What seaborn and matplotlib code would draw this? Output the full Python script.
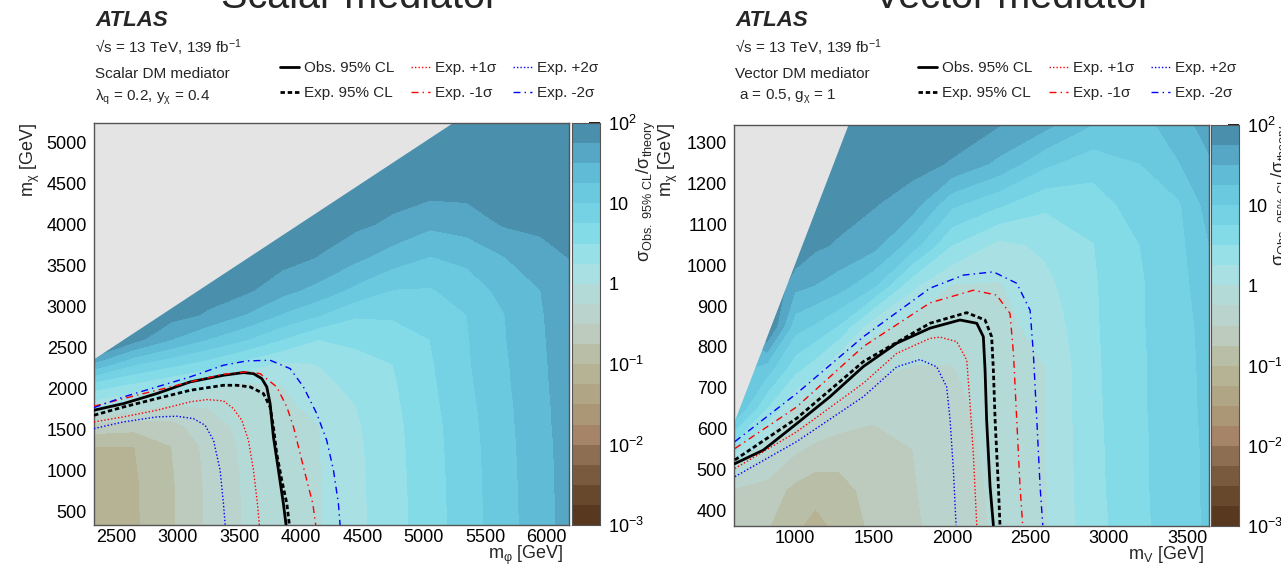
import numpy as np
import seaborn as sns
import matplotlib.pyplot as plt
from matplotlib.colors import ListedColormap, BoundaryNorm
from matplotlib.ticker import MultipleLocator, LogLocator, NullFormatter

W, H = 1281, 566

# z axis: log10(sigma_obs / sigma_theory), colour bands from 10^-3 to 10^2
z_edges = [-3.0, -2.75, -2.5, -2.25, -2.0, -1.75, -1.5, -1.25, -1.0, -0.75, -0.5,
           -0.25, 0.0, 0.25, 0.5, 0.75, 1.0, 1.25, 1.5, 1.75, 2.0]
band_colors = ['#58391f', '#68482c', '#7a5a3e', '#8d6e52', '#a58468', '#ab9676',
               '#b0a584', '#b5b394', '#b9bea6', '#bccbbe', '#bad3cc', '#b4dad8',
               '#a8e0e3', '#98e0e8', '#84dbe8', '#74d2e4', '#6ac9df', '#60bbd6',
               '#55a7c5', '#4a90ad']
cbar_ticks = [1e-3, 1e-2, 1e-1, 1, 10, 100]
cbar_ticklabels = [r'$\mathregular{10^{-3}}$', r'$\mathregular{10^{-2}}$',
                   r'$\mathregular{10^{-1}}$', '1', '10', r'$\mathregular{10^{2}}$']

# ---------------- scalar mediator ----------------
sc_mphi = [2320, 2650, 2950, 3250, 3550, 3850, 4150, 4450, 4750, 5050, 5350, 5650, 5950, 6200]
sc_mchi = [300, 900, 1300, 1550, 1800, 2050, 2300, 2600, 2900, 3200, 3600, 4000, 4400, 4800, 5250]
sc_logr = [
    [-1.15, -1.04, -0.79, -0.46, -0.23, -0.13, -0.02, 0.18, 0.40, 0.63, 0.88, 1.14, 1.40, 1.60],
    [-1.12, -1.03, -0.78, -0.45, -0.22, -0.12, -0.01, 0.19, 0.41, 0.64, 0.89, 1.15, 1.41, 1.61],
    [-1.00, -1.00, -0.75, -0.42, -0.20, -0.10, -0.01, 0.20, 0.42, 0.65, 0.90, 1.16, 1.42, 1.61],
    [-0.59, -0.64, -0.57, -0.36, -0.17, -0.08, 0.00, 0.22, 0.43, 0.66, 0.91, 1.17, 1.43, 1.62],
    [0.13, -0.12, -0.25, -0.23, -0.12, -0.05, 0.07, 0.25, 0.45, 0.68, 0.93, 1.18, 1.44, 1.62],
    [0.65, 0.46, 0.29, 0.07, -0.04, 0.00, 0.17, 0.33, 0.47, 0.70, 0.95, 1.20, 1.45, 1.63],
    [1.45, 1.02, 0.82, 0.64, 0.40, 0.20, 0.26, 0.42, 0.50, 0.72, 0.97, 1.21, 1.46, 1.63],
    [2.40, 1.84, 1.50, 1.24, 1.02, 0.75, 0.50, 0.55, 0.60, 0.75, 0.98, 1.23, 1.47, 1.64],
    [2.40, 2.40, 1.85, 1.72, 1.49, 1.23, 1.02, 0.78, 0.79, 0.88, 1.00, 1.24, 1.48, 1.65],
    [2.40, 2.40, 2.40, 1.85, 1.80, 1.59, 1.41, 1.18, 0.99, 0.98, 1.10, 1.33, 1.50, 1.68],
    [2.40, 2.40, 2.40, 2.40, 2.40, 1.85, 1.74, 1.56, 1.38, 1.24, 1.32, 1.49, 1.68, 1.76],
    [2.40, 2.40, 2.40, 2.40, 2.40, 2.40, 1.85, 1.80, 1.70, 1.55, 1.61, 1.77, 1.79, 1.80],
    [2.40, 2.40, 2.40, 2.40, 2.40, 2.40, 2.40, 1.90, 1.85, 1.82, 1.82, 1.84, 1.84, 1.84],
    [2.40, 2.40, 2.40, 2.40, 2.40, 2.40, 2.40, 2.40, 2.40, 1.90, 1.88, 1.88, 1.88, 1.88],
    [2.40, 2.40, 2.40, 2.40, 2.40, 2.40, 2.40, 2.40, 2.40, 2.40, 1.92, 1.92, 1.92, 1.92],
]
sc_edge_x = [2320, 5229]
sc_edge_y = [2366, 5235]

sc_obs_x = [2320, 2560, 2830, 3101, 3372, 3535, 3616, 3683, 3724, 3751, 3778, 3819, 3859, 3881]
sc_obs_y = [1736, 1817, 1939, 2081, 2162, 2195, 2182, 2122, 2020, 1817, 1411, 1005, 599, 335]
sc_exp_x = [2320, 2560, 2830, 3101, 3372, 3480, 3589, 3697, 3751, 3778, 3805, 3846, 3887, 3908]
sc_exp_y = [1675, 1776, 1878, 1979, 2040, 2040, 2020, 1939, 1776, 1533, 1208, 883, 599, 335]
sc_p1_x = [2320, 2560, 2830, 3101, 3237, 3372, 3453, 3521, 3575, 3616, 3648, 3664]
sc_p1_y = [1594, 1655, 1736, 1838, 1866, 1850, 1756, 1614, 1370, 1005, 599, 335]
sc_m1_x = [2320, 2560, 2830, 3101, 3372, 3562, 3670, 3805, 3887, 3941, 3995, 4049, 4098, 4122]
sc_m1_y = [1785, 1878, 1979, 2081, 2174, 2203, 2182, 2020, 1776, 1533, 1208, 883, 599, 335]
sc_p2_x = [2320, 2560, 2830, 2993, 3128, 3223, 3291, 3345, 3372, 3386]
sc_p2_y = [1513, 1594, 1655, 1663, 1634, 1553, 1370, 1005, 599, 335]
sc_m2_x = [2320, 2560, 2830, 3101, 3372, 3562, 3751, 3914, 4022, 4130, 4211, 4266, 4306, 4320]
sc_m2_y = [1768, 1898, 2020, 2142, 2284, 2337, 2345, 2243, 2020, 1695, 1370, 1005, 599, 335]

# ---------------- vector mediator ----------------
vc_mv = [610, 820, 1000, 1130, 1280, 1500, 1750, 2000, 2300, 2600, 2900, 3200, 3450, 3650]
vc_mchi = [350, 450, 550, 650, 750, 850, 950, 1050, 1150, 1250, 1350]
vc_logr = [
    [-0.62, -0.74, -0.97, -1.12, -0.95, -0.70, -0.54, -0.39, -0.21, -0.02, 0.40, 0.69, 0.89, 1.04],
    [-0.52, -0.60, -0.82, -0.90, -0.84, -0.66, -0.52, -0.37, -0.20, -0.01, 0.42, 0.70, 0.90, 1.05],
    [0.32, -0.20, -0.45, -0.57, -0.64, -0.58, -0.50, -0.35, -0.18, -0.01, 0.43, 0.70, 0.90, 1.05],
    [1.30, 0.50, -0.04, -0.16, -0.28, -0.45, -0.38, -0.32, -0.15, 0.00, 0.44, 0.71, 0.91, 1.06],
    [1.40, 1.15, 0.60, 0.37, -0.02, -0.18, -0.26, -0.26, -0.12, 0.00, 0.45, 0.71, 0.91, 1.07],
    [1.50, 2.10, 1.10, 0.96, 0.72, 0.06, -0.10, -0.14, -0.07, 0.08, 0.46, 0.72, 0.92, 1.08],
    [1.60, 2.10, 1.57, 1.49, 1.36, 1.04, 0.30, -0.02, -0.02, 0.18, 0.47, 0.72, 0.92, 1.15],
    [1.80, 2.10, 2.00, 1.80, 1.72, 1.59, 1.12, 0.50, 0.18, 0.30, 0.49, 0.75, 0.93, 1.26],
    [1.90, 2.10, 2.00, 1.95, 1.86, 1.77, 1.62, 1.06, 0.79, 0.55, 0.63, 0.87, 0.97, 1.38],
    [2.00, 2.10, 2.00, 2.00, 1.95, 1.88, 1.84, 1.73, 1.44, 1.05, 0.85, 1.00, 1.24, 1.48],
    [2.00, 2.10, 2.00, 2.00, 2.00, 1.95, 1.95, 1.88, 1.78, 1.60, 1.27, 1.15, 1.42, 1.60],
]
vc_edge_x = [611, 1338]
vc_edge_y = [617, 1345]

vc_obs_x = [617, 798, 1011, 1223, 1436, 1648, 1861, 2052, 2159, 2201, 2212, 2222, 2244, 2265]
vc_obs_y = [514, 547, 612, 678, 752, 809, 846, 866, 858, 825, 743, 621, 457, 363]
vc_exp_x = [617, 1011, 1436, 1861, 2095, 2212, 2254, 2265, 2276, 2297, 2307]
vc_exp_y = [523, 625, 764, 858, 884, 866, 825, 743, 621, 457, 363]
vc_p1_x = [617, 1011, 1436, 1648, 1861, 1925, 2031, 2095, 2116, 2137, 2159]
vc_p1_y = [502, 592, 711, 784, 821, 824, 813, 768, 662, 539, 363]
vc_m1_x = [617, 1011, 1436, 1861, 2137, 2286, 2371, 2393, 2414, 2435, 2452]
vc_m1_y = [551, 653, 801, 908, 939, 927, 882, 784, 621, 457, 363]
vc_p2_x = [617, 1011, 1436, 1648, 1797, 1904, 1967, 1989, 2010, 2027]
vc_p2_y = [482, 568, 678, 751, 769, 751, 702, 621, 498, 363]
vc_m2_x = [617, 1011, 1436, 1861, 2074, 2265, 2414, 2499, 2520, 2542, 2563, 2580]
vc_m2_y = [568, 686, 825, 944, 976, 984, 956, 890, 784, 621, 457, 363]

legend_labels = ['Obs. 95% CL', 'Exp. 95% CL', 'Exp. +1σ', 'Exp. -1σ', 'Exp. +2σ', 'Exp. -2σ']
line_styles = [('black', '-', 2.0), ('black', (0, (1.6, 1.0)), 2.0),
               ('red', (0, (1, 1.5)), 1.0), ('red', (0, (5, 3, 1, 3)), 1.0),
               ('blue', (0, (1, 1.5)), 1.0), ('blue', (0, (5, 3, 1, 3)), 1.0)]

sns.set_theme(style='ticks')
plt.rcParams['font.family'] = ['Liberation Sans', 'DejaVu Sans']
plt.rcParams['mathtext.fontset'] = 'custom'
plt.rcParams['mathtext.rm'] = 'Liberation Sans'
plt.rcParams['mathtext.it'] = 'Liberation Sans:italic'
plt.rcParams['mathtext.bf'] = 'Liberation Sans:bold'

cmap = ListedColormap(band_colors)
cmap.set_over(band_colors[-1])
norm = BoundaryNorm(z_edges, cmap.N)

fig = plt.figure(figsize=(W / 100, H / 100), dpi=100)


def px_box(x0, y0, x1, y1):
    return [x0 / W, 1 - y1 / H, (x1 - x0) / W, (y1 - y0) / H]


def draw_panel(ax, cax, mx, my, logr, edge_x, edge_y, curves, xlim, ylim, xmaj, ymaj, ymin):
    ax.contourf(mx, my, np.array(logr), levels=z_edges, cmap=cmap, norm=norm,
                extend='max', zorder=1)
    ax.fill_between(edge_x, edge_y, ylim[1] + 50, color='#e4e4e4', lw=0, zorder=1.5)
    handles = []
    for (cx, cy), (col, ls, lw) in zip(curves, line_styles):
        sns.lineplot(x=cx, y=cy, ax=ax, color=col, linestyle=ls, linewidth=lw,
                     sort=False, estimator=None, zorder=3)
        handles.append(ax.lines[-1])
    ax.set_xlim(*xlim)
    ax.set_ylim(*ylim)
    ax.set_xlabel('')
    ax.set_ylabel('')
    ax.xaxis.set_major_locator(MultipleLocator(xmaj))
    ax.xaxis.set_minor_locator(MultipleLocator(100))
    ax.yaxis.set_major_locator(MultipleLocator(ymaj))
    ax.yaxis.set_minor_locator(MultipleLocator(ymin))
    ax.tick_params(which='both', direction='in', top=False, right=False,
                   labelsize=13, colors='black', pad=5)
    ax.tick_params(axis='x', which='both', pad=3)
    ax.tick_params(which='major', length=10, width=1)
    ax.tick_params(which='minor', length=5, width=1)
    for s in ax.spines.values():
        s.set_color('#555555')
        s.set_linewidth(1)

    edges = 10.0 ** np.array(z_edges)
    mids = np.array(z_edges[:-1]) + 0.125
    cax.pcolormesh([0, 1], edges, mids[:, None], cmap=cmap, norm=norm)
    cax.set_yscale('log')
    cax.set_ylim(1e-3, 1e2)
    cax.set_xlim(0, 1)
    cax.set_xticks([])
    cax.yaxis.set_ticks_position('right')
    cax.set_yticks(cbar_ticks)
    cax.set_yticklabels(cbar_ticklabels)
    cax.yaxis.set_minor_locator(LogLocator(base=10, subs=np.arange(2, 10) * 1.0, numticks=20))
    cax.yaxis.set_minor_formatter(NullFormatter())
    cax.tick_params(axis='y', which='both', direction='in', left=False, right=True,
                    labelsize=13, colors='black', pad=6)
    cax.tick_params(axis='y', which='major', length=8)
    cax.tick_params(axis='y', which='minor', length=4)
    for s in cax.spines.values():
        s.set_color('#555555')
        s.set_linewidth(0.8)
    return handles


panels = [
    dict(ax=px_box(94, 123, 569, 525), cax=px_box(572, 123, 600, 525),
         mx=sc_mphi, my=sc_mchi, z=sc_logr, ex=sc_edge_x, ey=sc_edge_y,
         curves=[(sc_obs_x, sc_obs_y), (sc_exp_x, sc_exp_y), (sc_p1_x, sc_p1_y),
                 (sc_m1_x, sc_m1_y), (sc_p2_x, sc_p2_y), (sc_m2_x, sc_m2_y)],
         xlim=(2320, 6180), ylim=(338, 5235), xmaj=500, ymaj=500, ymin=100,
         x0=95, title='Scalar mediator', title_x=360, model='Scalar DM mediator',
         coup=r'λ$_\mathregular{q}$ = 0.2, y$_\mathregular{χ}$ = 0.4', leg_x=280,
         xlab=r'm$_\mathregular{φ}$ [GeV]', xlab_x=564, ylab_x=30, zlab_x=646, zlab_y=120),
    dict(ax=px_box(734, 125, 1209, 526), cax=px_box(1211, 125, 1239, 526),
         mx=vc_mv, my=vc_mchi, z=vc_logr, ex=vc_edge_x, ey=vc_edge_y,
         curves=[(vc_obs_x, vc_obs_y), (vc_exp_x, vc_exp_y), (vc_p1_x, vc_p1_y),
                 (vc_m1_x, vc_m1_y), (vc_p2_x, vc_p2_y), (vc_m2_x, vc_m2_y)],
         xlim=(611, 3640), ylim=(361, 1344), xmaj=500, ymaj=100, ymin=20,
         x0=735, title='Vector mediator', title_x=1013, model='Vector DM mediator',
         coup=r' a = 0.5, g$_\mathregular{χ}$ = 1', leg_x=918,
         xlab=r'm$_\mathregular{V}$ [GeV]', xlab_x=1204, ylab_x=668, zlab_x=1281, zlab_y=124),
]

for p in panels:
    ax = fig.add_axes(p['ax'])
    cax = fig.add_axes(p['cax'])
    handles = draw_panel(ax, cax, p['mx'], p['my'], p['z'], p['ex'], p['ey'], p['curves'],
                         p['xlim'], p['ylim'], p['xmaj'], p['ymaj'], p['ymin'])
    ax.legend(handles, legend_labels, ncol=3, loc='upper left', frameon=False,
              bbox_to_anchor=(p['leg_x'] / W, 1 - 61 / H), bbox_transform=fig.transFigure,
              fontsize=11, handlelength=1.25, handletextpad=0.35, columnspacing=1.05,
              labelspacing=0.75, borderpad=0, borderaxespad=0)

    fig.text(p['title_x'] / W, 1 - 8 / H, p['title'], fontsize=28.5, ha='center', va='baseline')
    fig.text(p['x0'] / W, 1 - 21 / H, 'ATLAS', fontsize=16, fontweight='bold',
             fontstyle='italic', va='center')
    fig.text(p['x0'] / W, 1 - 48 / H, r'√s = 13 TeV, 139 fb$^\mathregular{-1}$',
             fontsize=11, va='center')
    fig.text(p['x0'] / W, 1 - 74 / H, p['model'], fontsize=11, va='center')
    fig.text(p['x0'] / W, 1 - 97 / H, p['coup'], fontsize=11, va='center')

    fig.text(p['xlab_x'] / W, 1 - 559 / H, p['xlab'], fontsize=13, ha='right', va='baseline')
    fig.text(p['ylab_x'] / W, 1 - 123 / H, r'm$_\mathregular{χ}$ [GeV]', fontsize=13,
             rotation=90, ha='center', va='top')
    fig.text(p['zlab_x'] / W, 1 - p['zlab_y'] / H,
             r'$\mathregular{σ_{Obs.\ 95\%\ CL}/σ_{theory}}$',
             fontsize=13, rotation=90, ha='center', va='top')

fig.savefig('out.png', dpi=100)
